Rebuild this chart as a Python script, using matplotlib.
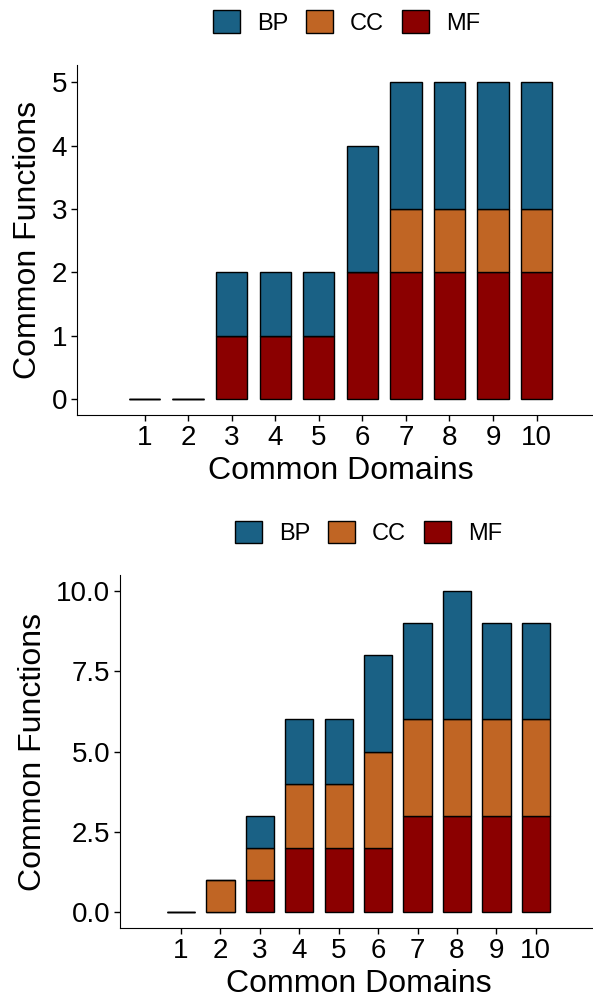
import numpy as np
import matplotlib.pyplot as plt
from matplotlib.patches import Patch

plt.rcParams['font.family'] = ['Liberation Sans', 'DejaVu Sans']

domains = [1, 2, 3, 4, 5, 6, 7, 8, 9, 10]
categories = ['BP', 'CC', 'MF']
colors = {'BP': '#1a6185', 'CC': '#c06524', 'MF': '#8b0000'}

# top panel
top_mf = [0, 0, 1, 1, 1, 2, 2, 2, 2, 2]
top_cc = [0, 0, 0, 0, 0, 0, 1, 1, 1, 1]
top_bp = [0, 0, 1, 1, 1, 2, 2, 2, 2, 2]

# bottom panel
bot_mf = [0, 0, 1, 2, 2, 2, 3, 3, 3, 3]
bot_cc = [0, 1, 1, 2, 2, 3, 3, 3, 3, 3]
bot_bp = [0, 0, 1, 2, 2, 3, 3, 4, 3, 3]

fig = plt.figure(figsize=(5.93, 9.97), dpi=100)


def draw_panel(ax, mf, cc, bp, yticks, ylim, fmt):
    mf = np.array(mf)
    cc = np.array(cc)
    bp = np.array(bp)
    kw = dict(width=0.72, edgecolor='black', linewidth=1.0)
    ax.bar(domains, mf, color=colors['MF'], **kw)
    ax.bar(domains, cc, bottom=mf, color=colors['CC'], **kw)
    ax.bar(domains, bp, bottom=mf + cc, color=colors['BP'], **kw)
    ax.set_xlim(-0.55, 11.55)
    ax.set_ylim(*ylim)
    ax.set_xticks(domains)
    ax.set_yticks(yticks)
    ax.set_yticklabels([fmt.format(v) for v in yticks])
    ax.tick_params(labelsize=20, length=4, width=1, color='black', pad=3)
    ax.spines['top'].set_visible(False)
    ax.spines['right'].set_visible(False)
    ax.set_xlabel('Common Domains', fontsize=23, labelpad=3.5)
    ax.set_ylabel('Common Functions', fontsize=23, labelpad=6)


ax1 = fig.add_axes([0.1298, 0.5838, 0.889, 0.351])
draw_panel(ax1, top_mf, top_cc, top_bp, [0, 1, 2, 3, 4, 5], (-0.25, 5.27), '{:.0f}')

ax2 = fig.add_axes([0.2024, 0.0692, 0.804, 0.354])
draw_panel(ax2, bot_mf, bot_cc, bot_bp, [0, 2.5, 5, 7.5, 10], (-0.5, 10.5), '{:.1f}')

handles = [Patch(facecolor=colors[c], edgecolor='black', label=c) for c in categories]
for xc, yc in [(0.5843, 0.9774), (0.6214, 0.4654)]:
    fig.legend(handles=handles, loc='center', bbox_to_anchor=(xc, yc), ncol=3,
               frameon=False, fontsize=17, handlelength=1.14, handleheight=1.06,
               handletextpad=0.72, columnspacing=0.76, borderpad=0)

fig.savefig('out.png', dpi=100)
